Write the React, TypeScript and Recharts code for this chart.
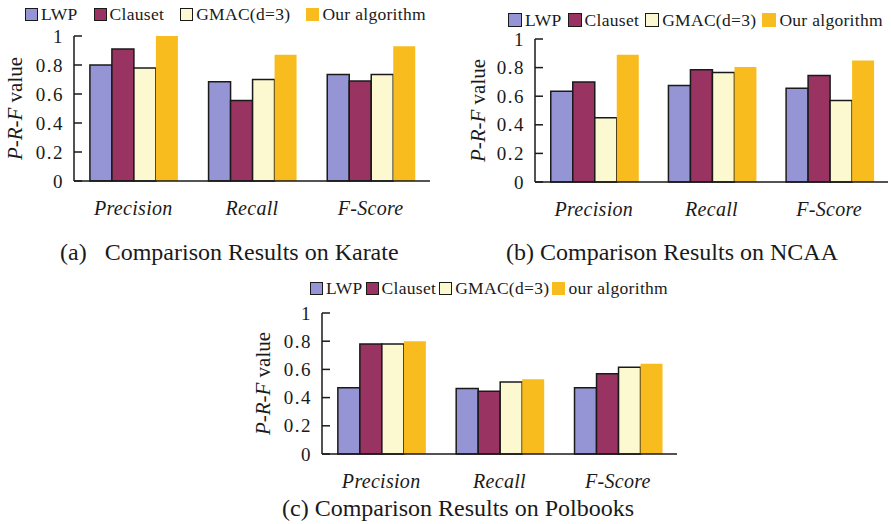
import { BarChart, Bar, XAxis, YAxis, Legend } from 'recharts'

const FONT = '"Liberation Serif", "Times New Roman", serif'
const INK = '#1a1a1a'

// categories on the x axis, shared by all three panels
const categories = ['Precision', 'Recall', 'F-Score']

// (a) Karate
const karateLWP = [0.8, 0.685, 0.735]
const karateClauset = [0.91, 0.555, 0.69]
const karateGMAC = [0.78, 0.7, 0.735]
const karateOurs = [1.0, 0.87, 0.93]

// (b) NCAA
const ncaaLWP = [0.635, 0.675, 0.655]
const ncaaClauset = [0.7, 0.785, 0.745]
const ncaaGMAC = [0.45, 0.765, 0.57]
const ncaaOurs = [0.89, 0.805, 0.85]

// (c) Polbooks
const polbooksLWP = [0.47, 0.465, 0.47]
const polbooksClauset = [0.78, 0.445, 0.57]
const polbooksGMAC = [0.78, 0.51, 0.615]
const polbooksOurs = [0.8, 0.53, 0.64]

const seriesKeys = ['lwp', 'clauset', 'gmac', 'ours']
const seriesColors = ['#9595d6', '#993462', '#fcf9d0', '#f8bc1e']
const namesUpper = ['LWP', 'Clauset', 'GMAC(d=3)', 'Our algorithm']
const namesLower = ['LWP', 'Clauset', 'GMAC(d=3)', 'our algorithm']

const yTicks = [0, 0.2, 0.4, 0.6, 0.8, 1]
// category boundaries where the x axis has its small upward ticks
const edgeTicks = [1, 2, 3]

function buildRows(lwp: number[], clauset: number[], gmac: number[], ours: number[]) {
  return categories.map((category, i) => ({
    category,
    lwp: lwp[i],
    clauset: clauset[i],
    gmac: gmac[i],
    ours: ours[i],
  }))
}

interface PanelLayout {
  left: number
  top: number
  width: number
  legendHeight: number
  plotBottom: number
  yAxisWidth: number
  rightMargin: number
  yLabelX: number
  legendLeft: number
  legendRowTop: number
  legendGap: number
  square: number
  title: string
  titleLeft: number
  titleBaseline: number
}

const XAXIS_HEIGHT = 45

function YTick({ x, y, payload }: any) {
  return (
    <g>
      <line x1={x} x2={x + 8} y1={y} y2={y} stroke={INK} strokeWidth={1.5} />
      <text
        x={x - 10}
        y={y}
        dy="0.35em"
        textAnchor="end"
        fontFamily={FONT}
        fontSize={19}
        letterSpacing={1.5}
        fill={INK}
      >
        {payload.value}
      </text>
    </g>
  )
}

function CategoryTick({ x, y, payload }: any) {
  return (
    <text
      x={x}
      y={y + 34}
      textAnchor="middle"
      fontFamily={FONT}
      fontStyle="italic"
      fontSize={20}
      letterSpacing={0.3}
      fill={INK}
    >
      {payload.value}
    </text>
  )
}

function EdgeTick({ x, y }: any) {
  return <line x1={x} x2={x} y1={y} y2={y - 8} stroke={INK} strokeWidth={1.5} />
}

function YLabel({ viewBox, offsetX }: any) {
  const cx = viewBox.x + offsetX
  const cy = viewBox.y + viewBox.height / 2
  return (
    <text
      x={cx}
      y={cy}
      transform={`rotate(-90 ${cx} ${cy})`}
      textAnchor="middle"
      dominantBaseline="central"
      fontFamily={FONT}
      fontSize={21}
      fill={INK}
    >
      <tspan fontStyle="italic">P</tspan>-<tspan fontStyle="italic">R</tspan>-<tspan fontStyle="italic">F</tspan> value
    </text>
  )
}

// legend drawn in series order (Recharts would sort it by name otherwise)
function LegendRow({ cfg, names }: any) {
  return (
    <div
      style={{
        height: cfg.legendHeight,
        paddingTop: cfg.legendRowTop,
        paddingLeft: cfg.legendLeft,
        boxSizing: 'border-box',
        display: 'flex',
        alignItems: 'flex-start',
        gap: cfg.legendGap,
        fontFamily: FONT,
        fontSize: 17.5,
        letterSpacing: 0.3,
        lineHeight: '20px',
        color: INK,
        whiteSpace: 'nowrap',
      }}
    >
      {names.map((name: string, i: number) => (
        <div key={name} style={{ display: 'flex', alignItems: 'center', gap: 3 }}>
          <span
            style={{
              display: 'inline-block',
              flex: 'none',
              width: cfg.square,
              height: cfg.square,
              boxSizing: 'border-box',
              background: seriesColors[i],
              border: i === 3 ? 'none' : `1.5px solid ${INK}`,
            }}
          />
          <span>{name}</span>
        </div>
      ))}
    </div>
  )
}

function Panel({ cfg, rows, names }: { cfg: PanelLayout; rows: any[]; names: string[] }) {
  const height = cfg.plotBottom + XAXIS_HEIGHT
  return (
    <div style={{ position: 'absolute', left: cfg.left, top: cfg.top, width: cfg.width, height: 260 }}>
      <BarChart
        width={cfg.width}
        height={height}
        data={rows}
        margin={{ top: 0, right: cfg.rightMargin, bottom: 0, left: 0 }}
        barCategoryGap="13.4%"
        barGap={0}
      >
        <Legend
          verticalAlign="top"
          align="left"
          wrapperStyle={{ left: 0, top: 0, width: cfg.width, height: cfg.legendHeight }}
          content={<LegendRow cfg={cfg} names={names} />}
        />
        <XAxis
          xAxisId="edge"
          type="number"
          domain={[0, 3]}
          ticks={edgeTicks}
          interval={0}
          allowDataOverflow
          height={0}
          axisLine={false}
          tickLine={false}
          tickSize={0}
          tickMargin={0}
          tick={<EdgeTick />}
        />
        <XAxis
          dataKey="category"
          height={XAXIS_HEIGHT}
          axisLine={{ stroke: INK, strokeWidth: 1.5 }}
          tickLine={false}
          tickSize={0}
          tickMargin={0}
          interval={0}
          tick={<CategoryTick />}
        />
        <YAxis
          type="number"
          domain={[0, 1]}
          ticks={yTicks}
          interval={0}
          width={cfg.yAxisWidth}
          axisLine={{ stroke: INK, strokeWidth: 1.5 }}
          tickLine={false}
          tickSize={0}
          tickMargin={0}
          tick={<YTick />}
          label={<YLabel offsetX={cfg.yLabelX} />}
        />
        {seriesKeys.map((key, i) => (
          <Bar
            key={key}
            dataKey={key}
            name={names[i]}
            fill={seriesColors[i]}
            stroke={i === 3 ? 'none' : INK}
            strokeWidth={i === 3 ? 0 : 1.5}
            isAnimationActive={false}
          />
        ))}
      </BarChart>
      <div
        style={{
          position: 'absolute',
          left: cfg.titleLeft,
          top: cfg.titleBaseline - 20,
          fontFamily: FONT,
          fontSize: 24,
          lineHeight: '24px',
          color: INK,
          whiteSpace: 'pre',
        }}
      >
        {cfg.title}
      </div>
    </div>
  )
}

const layoutA: PanelLayout = {
  left: 0,
  top: 0,
  width: 445,
  legendHeight: 36,
  plotBottom: 181,
  yAxisWidth: 74,
  rightMargin: 15,
  yLabelX: 15,
  legendLeft: 25,
  legendRowTop: 4,
  legendGap: 16,
  square: 13,
  title: '(a)   Comparison Results on Karate',
  titleLeft: 60,
  titleBaseline: 260,
}

const layoutB: PanelLayout = {
  left: 445,
  top: 0,
  width: 446,
  legendHeight: 39,
  plotBottom: 182,
  yAxisWidth: 90,
  rightMargin: 3,
  yLabelX: 33,
  legendLeft: 63,
  legendRowTop: 10,
  legendGap: 6,
  square: 14,
  title: '(b) Comparison Results on NCAA',
  titleLeft: 61,
  titleBaseline: 260,
}

const layoutC: PanelLayout = {
  left: 240,
  top: 270,
  width: 460,
  legendHeight: 43,
  plotBottom: 184,
  yAxisWidth: 82,
  rightMargin: 23,
  yLabelX: 23,
  legendLeft: 70,
  legendRowTop: 8,
  legendGap: 3,
  square: 13,
  title: '(c) Comparison Results on Polbooks',
  titleLeft: 42,
  titleBaseline: 246,
}

export default function App() {
  return (
    <div
      style={{
        position: 'absolute',
        left: 0,
        top: 0,
        width: 891,
        height: 524,
        background: '#fff',
        overflow: 'hidden',
      }}
    >
      <Panel cfg={layoutA} rows={buildRows(karateLWP, karateClauset, karateGMAC, karateOurs)} names={namesUpper} />
      <Panel cfg={layoutB} rows={buildRows(ncaaLWP, ncaaClauset, ncaaGMAC, ncaaOurs)} names={namesUpper} />
      <Panel
        cfg={layoutC}
        rows={buildRows(polbooksLWP, polbooksClauset, polbooksGMAC, polbooksOurs)}
        names={namesLower}
      />
    </div>
  )
}
